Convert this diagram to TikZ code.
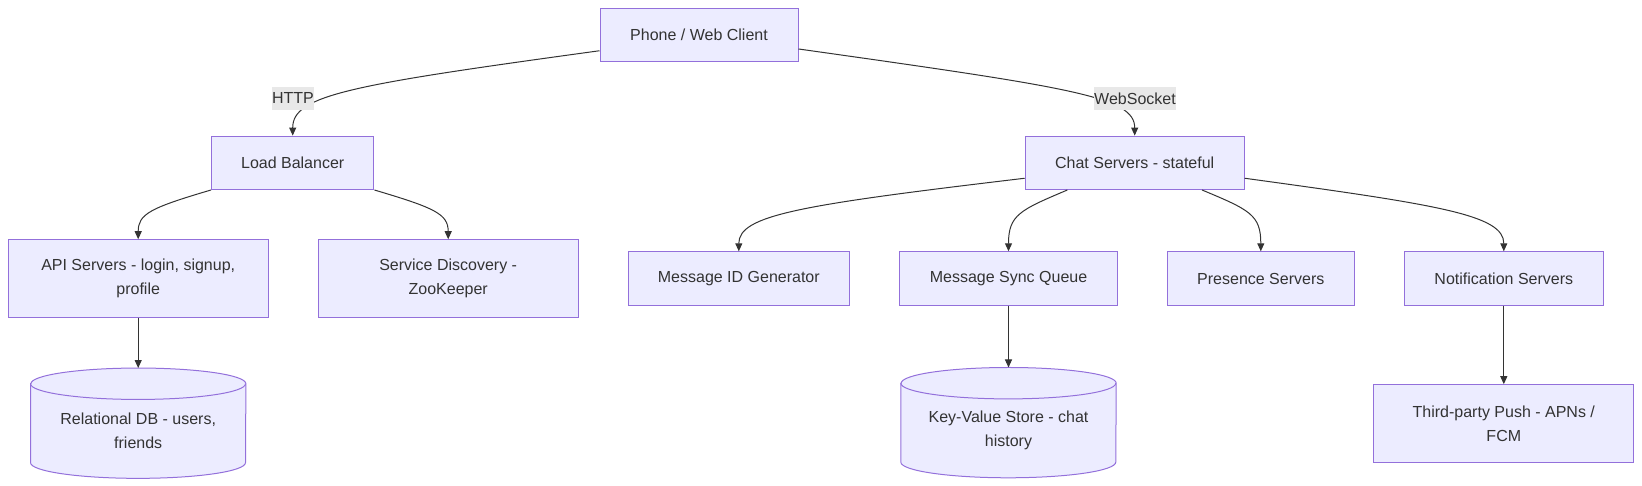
\documentclass[tikz,border=0pt]{standalone}
\usepackage{fontspec}
\setmainfont{Liberation Sans}
\usepackage{xcolor}
\usetikzlibrary{arrows.meta,positioning,backgrounds}

\definecolor{nodefill}{HTML}{ECECFF}
\definecolor{nodeline}{HTML}{9370DB}
\definecolor{edgeline}{HTML}{333333}
\definecolor{labelbg}{HTML}{E8E8E8}

% cylinder drawn behind a db node
\newcommand{\drumry}{15.7pt}
\newcommand{\drumrx}{107.5pt}
\newcommand{\drum}[1]{%
  \begin{pgfonlayer}{background}
    \filldraw[drumline] (#1.north west) -- ([yshift=\drumry]#1.south west)
      arc[start angle=180, end angle=360, x radius=\drumrx, y radius=\drumry]
      -- (#1.north east)
      arc[start angle=0, end angle=180, x radius=\drumrx, y radius=\drumry] -- cycle;
    \draw[drumline, fill=none] (#1.north west)
      arc[start angle=180, end angle=360, x radius=\drumrx, y radius=\drumry];
  \end{pgfonlayer}}

\begin{document}
\begin{tikzpicture}[
  x=1pt, y=1pt,
  every node/.style={font=\fontsize{16}{24}\selectfont, text=edgeline},
  box/.style={
    draw=nodeline, fill=nodefill, line width=1pt,
    align=center, inner sep=0pt, minimum height=53.4pt,
  },
  tallbox/.style={box, minimum height=77.5pt},
  db/.style={align=center, inner sep=0pt, minimum width=215pt, minimum height=94.2pt},
  drumline/.style={draw=nodeline, fill=nodefill, line width=1pt},
  arrow/.style={draw=edgeline, line width=1pt, -{Triangle[length=8pt,width=7pt]}},
  tag/.style={fill=labelbg, inner sep=0pt, minimum height=23pt},
]
\useasboundingbox (0,0) rectangle (1642,486);

% Top: client
\node[box, minimum width=198pt] (client) at (699,451) {Phone / Web Client};

% Second row
\node[box, minimum width=162.4pt] (lb) at (292.7,323.2) {Load Balancer};
\node[box, minimum width=219pt] (chat) at (1134.7,323.2) {Chat Servers - stateful};

% Third row
\node[tallbox, minimum width=259.7pt] (api) at (138.2,207.5) {API Servers - login, signup,\\profile};
\node[tallbox, minimum width=259.7pt] (disc) at (448.2,207.5) {Service Discovery -\\ZooKeeper};
\node[box, minimum width=221pt] (msgid) at (738.8,207.5) {Message ID Generator};
\node[box, minimum width=218pt] (sync) at (1008.5,207.5) {Message Sync Queue};
\node[box, minimum width=186.4pt] (presence) at (1260.8,207.5) {Presence Servers};
\node[box, minimum width=199pt] (notify) at (1503.8,207.5) {Notification Servers};

% Bottom row
\node[db, below=66pt of api] (rdb) {Relational DB - users,\\friends};
\node[db, below=77.5pt of sync] (kv) {Key-Value Store - chat\\history};
\node[tallbox, minimum width=259.7pt, below=78.5pt of notify] (push) {Third-party Push - APNs /\\FCM};
\drum{rdb}
\drum{kv}

% Arrows
\draw[arrow] (client.189) .. controls (350,401) and (292.7,391) .. (lb.north);
\draw[arrow] (client.352) .. controls (1075,398) and (1134.7,389) .. (chat.north);
\draw[arrow] (lb.south west) .. controls (150,278) and (138.2,272) .. (api.north);
\draw[arrow] (lb.south east) .. controls (435,278) and (448.2,272) .. (disc.north);
\draw[arrow] (chat.188) .. controls (800,281) and (738.8,271) .. (msgid.north);
\draw[arrow] (chat.202) .. controls (1020,276) and (1008.5,271) .. (sync.north);
\draw[arrow] (chat.338) .. controls (1250,276) and (1260.8,271) .. (presence.north);
\draw[arrow] (chat.352) .. controls (1440,281) and (1503.8,271) .. (notify.north);
\draw[arrow] (api.south) -- ([yshift=\drumry]rdb.north);
\draw[arrow] (sync.south) -- ([yshift=\drumry]kv.north);
\draw[arrow] (notify.south) -- (push.north);

% Edge labels
\node[tag] (http) at (293,387.6) {HTTP};
\node[tag] (ws) at (1135,387.6) {WebSocket};

\end{tikzpicture}
\end{document}
